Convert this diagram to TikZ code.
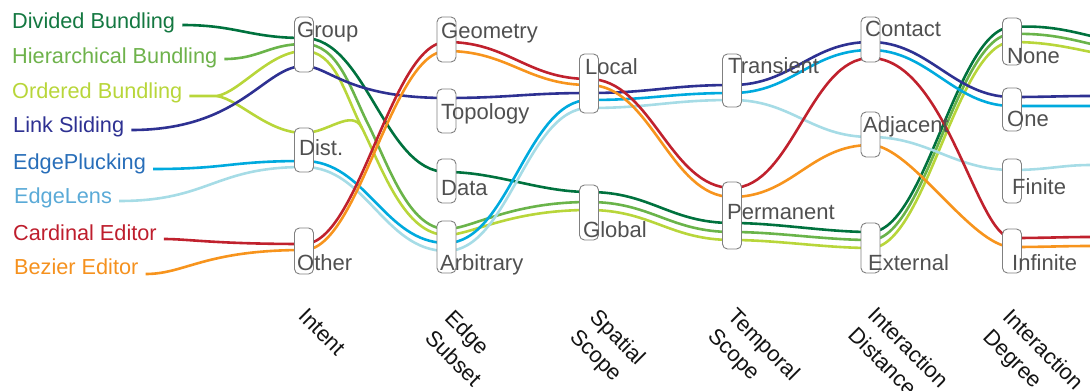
\documentclass[tikz,border=0pt]{standalone}
\usepackage{fontspec}
\setmainfont{Liberation Sans}
\pgfdeclarelayer{bg}
\pgfsetlayers{bg,main}
\definecolor{cDB}{RGB}{0,114,62}
\definecolor{cHB}{RGB}{106,180,74}
\definecolor{cOB}{RGB}{184,214,58}
\definecolor{cLS}{RGB}{46,49,146}
\definecolor{cEP}{RGB}{0,170,222}
\definecolor{cEL}{RGB}{166,220,230}
\definecolor{cCE}{RGB}{192,33,45}
\definecolor{cBE}{RGB}{247,148,29}
\definecolor{tDB}{RGB}{20,120,65}
\definecolor{tHB}{RGB}{110,178,75}
\definecolor{tOB}{RGB}{184,214,58}
\definecolor{tLS}{RGB}{46,49,146}
\definecolor{tEP}{RGB}{40,110,185}
\definecolor{tEL}{RGB}{90,170,215}
\definecolor{tCE}{RGB}{190,30,45}
\definecolor{tBE}{RGB}{245,145,30}
\definecolor{labc}{RGB}{80,80,80}
\definecolor{boxc}{RGB}{128,128,128}
\definecolor{axc}{RGB}{20,20,20}
\begin{document}
\begin{tikzpicture}[x=1pt,y=-1pt,
  flow/.style={line width=2.6pt},
  box/.style={draw=boxc, fill=white, rounded corners=5pt, minimum width=19pt, inner sep=0pt, line width=0.9pt},
  lab/.style={font=\fontsize{22}{26}\selectfont, text=labc, inner sep=0pt, anchor=base west},
  leg/.style={font=\fontsize{21.7}{25}\selectfont, inner sep=0pt, anchor=base west},
  axis/.style={font=\fontsize{22}{28}\selectfont, text=axc, rotate=-45, anchor=north west, align=left, inner sep=0pt}]
\useasboundingbox (0,0) rectangle (1090,391);

% legend
\node[leg,text=tDB] (lDB) at (12,28) {Divided Bundling};
\node[leg,text=tHB] (lHB) at (12,63) {Hierarchical Bundling};
\node[leg,text=tOB] (lOB) at (12,98) {Ordered Bundling};
\node[leg,text=tLS] (lLS) at (13,132) {Link Sliding};
\node[leg,text=tEP] (lEP) at (13,169) {EdgePlucking};
\node[leg,text=tEL] (lEL) at (14,203) {EdgeLens};
\node[leg,text=tCE] (lCE) at (13,240) {Cardinal Editor};
\node[leg,text=tBE] (lBE) at (14,274) {Bezier Editor};

% boxes
\node[box, minimum height=55pt] (group) at (304,44.5) {};
\node[box, minimum height=44pt] (dist) at (304,150) {};
\node[box, minimum height=46pt] (other) at (304,251) {};
\node[box, minimum height=45pt] (geometry) at (446.5,39.5) {};
\node[box, minimum height=44pt] (topology) at (446.5,111) {};
\node[box, minimum height=44pt] (data) at (446.5,181) {};
\node[box, minimum height=52pt] (arbitrary) at (446.5,247) {};
\node[box, minimum height=59pt] (local) at (589,83.5) {};
\node[box, minimum height=55pt] (global) at (589,212.5) {};
\node[box, minimum height=53pt] (transient) at (732,80.5) {};
\node[box, minimum height=67pt] (permanent) at (732,215.5) {};
\node[box, minimum height=45pt] (contact) at (870.5,39.5) {};
\node[box, minimum height=45pt] (adjacent) at (870.5,134.5) {};
\node[box, minimum height=50pt] (external) at (870.5,248) {};
\node[box, minimum height=47pt] (none) at (1012,41.5) {};
\node[box, minimum height=43pt] (one) at (1012,109.5) {};
\node[box, minimum height=44pt] (finite) at (1012,181) {};
\node[box, minimum height=44pt] (infinite) at (1012,251) {};

% box labels
\node[lab] (tgroup) at (297,37) {Group};
\node[lab] (tdist) at (299,155) {Dist.};
\node[lab] (tother) at (297,270) {Other};
\node[lab] (tgeometry) at (441,38) {Geometry};
\node[lab] (ttopology) at (441,119) {Topology};
\node[lab] (tdata) at (441,195) {Data};
\node[lab] (tarbitrary) at (440,270) {Arbitrary};
\node[lab] (tlocal) at (585,74) {Local};
\node[lab] (tglobal) at (583,237) {Global};
\node[lab] (ttransient) at (728,73) {Transient};
\node[lab] (tpermanent) at (727,219) {Permanent};
\node[lab] (tcontact) at (865,36) {Contact};
\node[lab] (tadjacent) at (863,132) {Adjacent};
\node[lab] (texternal) at (868,270) {External};
\node[lab] (tnone) at (1007,63) {None};
\node[lab] (tone) at (1007,126) {One};
\node[lab] (tfinite) at (1012,194) {Finite};
\node[lab] (tinfinite) at (1012,270) {Infinite};

% axis labels
\node[axis] (aIntent) at (308,307) {Intent};
\node[axis] (aEdge) at (455,308) {Edge\\Subset};
\node[axis] (aSpatial) at (600,307) {Spatial\\Scope};
\node[axis] (aTemporal) at (738,306) {Temporal\\Scope};
\node[axis] (aDistance) at (878,305) {Interaction\\Distance};
\node[axis] (aDegree) at (1013,307) {Interaction\\Degree};

% helper coordinates
\coordinate (fOB) at (217,96);
\coordinate (mOB) at (362,128);
\coordinate (mHB) at (368,124);
\coordinate (eDB) at (1091,36);
\coordinate (eHB) at (1091,44);
\coordinate (eOB) at (1091,52);
\coordinate (eLS) at (1091,96);
\coordinate (eEP) at (1091,106);
\coordinate (eEL) at (1091,165);
\coordinate (eCE) at (1091,237);
\coordinate (eBE) at (1091,246);

\begin{pgfonlayer}{bg}
% Divided Bundling
\draw[flow,cDB] ([shift={(7pt,3pt)}]lDB.base east) .. controls +(55,0) and +(-55,0) .. (group |- 0,38)
  .. controls +(62,0) and +(-62,0) .. (data |- 0,172)
  .. controls +(50,0) and +(-50,0) .. (global |- 0,192)
  .. controls +(62,0) and +(-62,0) .. (permanent |- 0,223)
  .. controls +(45,0) and +(-45,0) .. (external |- 0,232)
  .. controls +(55,0) and +(-55,0) .. (none |- 0,27)
  .. controls +(33,-2) and +(-25,-6) .. (eDB);
% Hierarchical Bundling
\draw[flow,cHB] ([shift={(7pt,4pt)}]lHB.base east) .. controls +(35,0) and +(-35,0) .. (group |- 0,44)
  .. controls +(34,0) and (350,88) .. (mHB)
  .. controls (388,164) and +(-38,0) .. (arbitrary |- 0,229)
  .. controls +(25,0) and +(-80,0) .. (global |- 0,202)
  .. controls +(62,0) and +(-62,0) .. (permanent |- 0,232)
  .. controls +(45,0) and +(-45,0) .. (external |- 0,240)
  .. controls +(55,0) and +(-55,0) .. (none |- 0,34)
  .. controls +(33,-1) and +(-25,-6) .. (eHB);
% Ordered Bundling
\draw[flow,cOB] ([shift={(7pt,2pt)}]lOB.base east) -- (fOB)
  .. controls +(23,-4) and +(-34,0) .. (group |- 0,51)
  .. controls +(31,0) and (344,92) .. (mOB)
  .. controls (382,168) and +(-42,0) .. (arbitrary |- 0,235)
  .. controls +(25,0) and +(-80,0) .. (global |- 0,210)
  .. controls +(62,0) and +(-62,0) .. (permanent |- 0,240)
  .. controls +(45,0) and +(-45,0) .. (external |- 0,248)
  .. controls +(55,0) and +(-55,0) .. (none |- 0,42)
  .. controls +(33,0) and +(-25,-5) .. (eOB);
\draw[flow,cOB] (fOB) .. controls +(23,4) and +(-36,0) .. (dist |- 0,133)
  .. controls +(24,0) and (352,108) .. (mOB);
% Link Sliding
\draw[flow,cLS] ([shift={(7pt,2pt)}]lLS.base east) .. controls +(110,0) and +(-40,0) .. (group |- 0,66)
  .. controls +(25,0) and +(-100,0) .. (topology |- 0,98)
  .. controls +(62,0) and +(-62,0) .. (local |- 0,93)
  .. controls +(62,0) and +(-62,0) .. (transient |- 0,85)
  .. controls +(60,0) and +(-60,0) .. (contact |- 0,42)
  .. controls +(58,0) and +(-58,0) .. (one |- 0,97)
  .. controls +(35,0) and +(-30,0) .. (eLS);
% EdgePlucking
\draw[flow,cEP] ([shift={(7pt,0pt)}]lEP.base east) .. controls +(75,0) and +(-75,0) .. (dist |- 0,161)
  .. controls +(62,0) and +(-62,0) .. (arbitrary |- 0,243)
  .. controls +(62,0) and +(-62,0) .. (local |- 0,100)
  .. controls +(62,0) and +(-62,0) .. (transient |- 0,93)
  .. controls +(60,0) and +(-60,0) .. (contact |- 0,50)
  .. controls +(58,0) and +(-58,0) .. (one |- 0,106)
  .. controls +(35,0) and +(-30,0) .. (eEP);
% EdgeLens
\draw[flow,cEL] ([shift={(7pt,2pt)}]lEL.base east) .. controls +(90,0) and +(-90,0) .. (dist |- 0,167)
  .. controls +(62,0) and +(-62,0) .. (arbitrary |- 0,251)
  .. controls +(62,0) and +(-62,0) .. (local |- 0,108)
  .. controls +(62,0) and +(-62,0) .. (transient |- 0,100)
  .. controls +(60,0) and +(-60,0) .. (adjacent |- 0,137)
  .. controls +(58,0) and +(-58,0) .. (finite |- 0,170)
  .. controls +(35,0) and +(-30,0) .. (eEL);
% Cardinal Editor
\draw[flow,cCE] ([shift={(7pt,1pt)}]lCE.base east) .. controls +(25,0) and +(-90,0) .. (other |- 0,244)
  .. controls +(55,0) and +(-55,0) .. (geometry |- 0,42)
  .. controls +(62,0) and +(-62,0) .. (local |- 0,79)
  .. controls +(62,0) and +(-62,0) .. (permanent |- 0,188)
  .. controls +(60,0) and +(-60,0) .. (contact |- 0,58)
  .. controls +(75,0) and +(-35,0) .. (infinite |- 0,238)
  .. controls +(35,0) and +(-30,0) .. (eCE);
% Bezier Editor
\draw[flow,cBE] ([shift={(7pt,0pt)}]lBE.base east) .. controls +(40,0) and +(-100,0) .. (other |- 0,250)
  .. controls +(55,0) and +(-55,0) .. (geometry |- 0,51)
  .. controls +(62,0) and +(-62,0) .. (local |- 0,85)
  .. controls +(62,0) and +(-62,0) .. (permanent |- 0,197)
  .. controls +(60,0) and +(-60,0) .. (adjacent |- 0,145)
  .. controls +(40,0) and +(-40,0) .. (infinite |- 0,247)
  .. controls +(35,0) and +(-30,0) .. (eBE);
\end{pgfonlayer}
\end{tikzpicture}
\end{document}
